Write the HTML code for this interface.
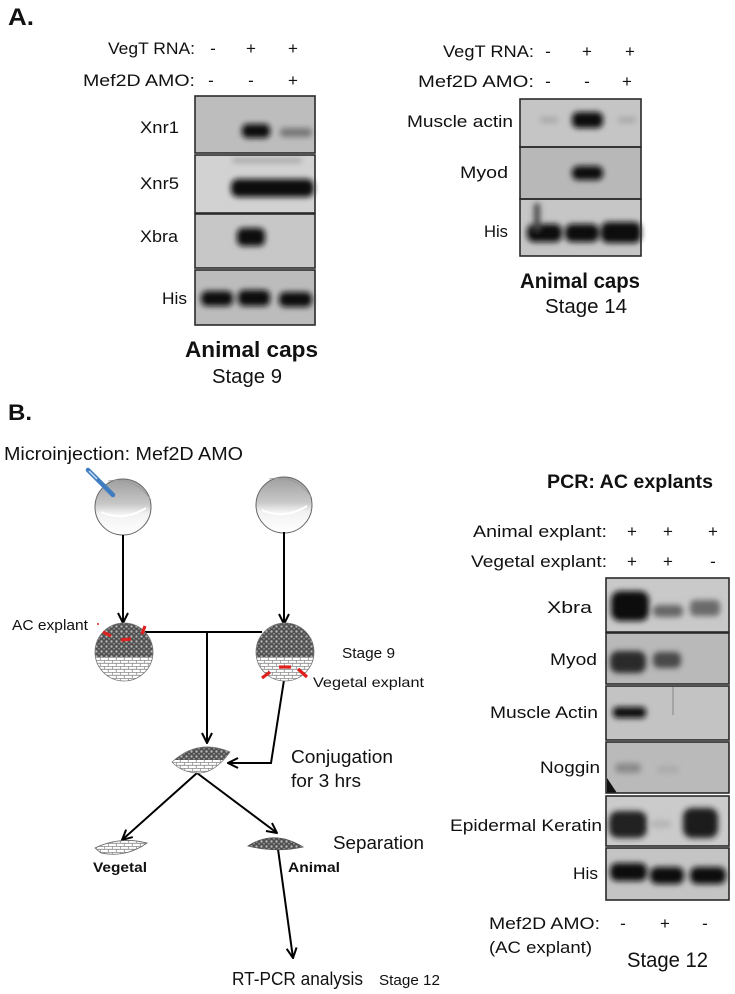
<!DOCTYPE html>
<html><head><meta charset="utf-8"><style>
html,body{margin:0;padding:0;background:#fff;}
svg{display:block;}
text{font-family:"Liberation Sans",Arial,sans-serif;fill:#111;}
.b{font-weight:bold;}
</style></head><body>
<svg width="735" height="994" viewBox="0 0 735 994" xmlns="http://www.w3.org/2000/svg">
<defs>
<filter id="bl" x="-50%" y="-100%" width="200%" height="300%"><feGaussianBlur stdDeviation="2.8"/></filter>
<marker id="ah" viewBox="0 0 12 12" refX="11" refY="6" markerWidth="12" markerHeight="12" orient="auto" markerUnits="userSpaceOnUse">
<path d="M1,1 L11,6 L1,11" fill="none" stroke="#000" stroke-width="2"/></marker>
<pattern id="dk" width="5" height="5" patternUnits="userSpaceOnUse"><rect width="5" height="5" fill="#505050"/><circle cx="1.5" cy="1.5" r="1.2" fill="#b4b4b4"/><circle cx="4" cy="3.8" r="0.9" fill="#9a9a9a"/></pattern>
<pattern id="lt" width="8" height="6" patternUnits="userSpaceOnUse"><rect width="8" height="6" fill="#fff"/><path d="M0,0.3H8M0,3.3H8M0.3,0V3.3M4.3,3.3V6" stroke="#8a8a8a" stroke-width="0.8" fill="none"/></pattern>
<linearGradient id="egg" x1="0" y1="0" x2="0" y2="1">
<stop offset="0" stop-color="#9e9e9e"/><stop offset="0.45" stop-color="#c8c8c8"/><stop offset="0.62" stop-color="#f2f2f2"/><stop offset="1" stop-color="#fff"/></linearGradient>
<clipPath id="cL"><circle cx="124" cy="652" r="29"/></clipPath>
<clipPath id="cR"><circle cx="285" cy="652" r="29"/></clipPath>
<clipPath id="cC"><path d="M172,762 Q198,738 230,752 Q214,774 197,773 Q181,772 172,762Z"/></clipPath>
</defs>

<!-- ===== Panel A ===== -->
<text x="8" y="25" font-size="24" class="b" textLength="26" lengthAdjust="spacingAndGlyphs">A.</text>

<text x="108" y="54" font-size="17" textLength="87" lengthAdjust="spacingAndGlyphs">VegT RNA:</text>
<text x="213" y="54" font-size="17" text-anchor="middle">-</text>
<text x="251" y="54" font-size="17" text-anchor="middle">+</text>
<text x="293" y="54" font-size="17" text-anchor="middle">+</text>
<text x="83" y="86" font-size="17" textLength="112" lengthAdjust="spacingAndGlyphs">Mef2D AMO:</text>
<text x="211" y="86" font-size="17" text-anchor="middle">-</text>
<text x="251" y="86" font-size="17" text-anchor="middle">-</text>
<text x="293" y="86" font-size="17" text-anchor="middle">+</text>

<rect x="195" y="96" width="120" height="57" fill="#bdbdbd"/>
<rect x="195" y="155" width="120" height="58" fill="#d2d2d2"/>
<rect x="195" y="214" width="120" height="54" fill="#c7c7c7"/>
<rect x="195" y="270" width="120" height="55" fill="#bcbcbc"/>
<g filter="url(#bl)" fill="#111">
<rect x="242" y="124" width="28" height="14" rx="5"/>
<rect x="280" y="128" width="32" height="9" rx="4" fill="#777"/>
<rect x="231" y="179" width="83" height="18" rx="7"/>
<rect x="232" y="158" width="70" height="5" rx="2" fill="#a8a8a8"/>
<rect x="237" y="228" width="28" height="18" rx="6"/>
<rect x="201" y="291" width="32" height="15" rx="6"/>
<rect x="238" y="290" width="32" height="16" rx="6"/>
<rect x="279" y="292" width="33" height="15" rx="6"/>
</g>
<g fill="none" stroke="#2a2a2a" stroke-width="1.6">
<rect x="195" y="96" width="120" height="57"/>
<rect x="195" y="155" width="120" height="58"/>
<rect x="195" y="214" width="120" height="54"/>
<rect x="195" y="270" width="120" height="55"/>
</g>
<text x="140" y="133" font-size="17" textLength="39" lengthAdjust="spacingAndGlyphs">Xnr1</text>
<text x="140" y="189" font-size="17" textLength="39" lengthAdjust="spacingAndGlyphs">Xnr5</text>
<text x="140" y="242" font-size="17" textLength="38" lengthAdjust="spacingAndGlyphs">Xbra</text>
<text x="162" y="304" font-size="17" textLength="25" lengthAdjust="spacingAndGlyphs">His</text>
<text x="185" y="357" font-size="22" class="b" textLength="133" lengthAdjust="spacingAndGlyphs">Animal caps</text>
<text x="212" y="383" font-size="20" textLength="70" lengthAdjust="spacingAndGlyphs">Stage 9</text>

<text x="443" y="57" font-size="17" textLength="91" lengthAdjust="spacingAndGlyphs">VegT RNA:</text>
<text x="548" y="57" font-size="17" text-anchor="middle">-</text>
<text x="587" y="57" font-size="17" text-anchor="middle">+</text>
<text x="630" y="57" font-size="17" text-anchor="middle">+</text>
<text x="418" y="87" font-size="17" textLength="116" lengthAdjust="spacingAndGlyphs">Mef2D AMO:</text>
<text x="548" y="87" font-size="17" text-anchor="middle">-</text>
<text x="587" y="87" font-size="17" text-anchor="middle">-</text>
<text x="627" y="87" font-size="17" text-anchor="middle">+</text>

<rect x="520" y="99" width="121" height="48" fill="#c5c5c5"/>
<rect x="520" y="147" width="121" height="52" fill="#b8b8b8"/>
<rect x="520" y="199" width="121" height="57" fill="#c6c6c6"/>
<g filter="url(#bl)" fill="#111">
<rect x="572" y="112" width="31" height="16" rx="6"/>
<rect x="540" y="117" width="18" height="6" rx="3" fill="#a8a8a8"/>
<rect x="618" y="117" width="18" height="6" rx="3" fill="#a8a8a8"/>
<rect x="572" y="166" width="31" height="14" rx="6"/>
<rect x="527" y="224" width="35" height="18" rx="7"/>
<rect x="565" y="224" width="34" height="18" rx="7"/>
<rect x="601" y="222" width="40" height="21" rx="7"/>
<rect x="534" y="203" width="6" height="28" rx="3" fill="#444"/>
</g>
<g fill="none" stroke="#2a2a2a" stroke-width="1.6">
<rect x="520" y="99" width="121" height="48"/>
<rect x="520" y="147" width="121" height="52"/>
<rect x="520" y="199" width="121" height="57"/>
</g>
<text x="407" y="127" font-size="17" textLength="106" lengthAdjust="spacingAndGlyphs">Muscle actin</text>
<text x="460" y="178" font-size="17" textLength="48" lengthAdjust="spacingAndGlyphs">Myod</text>
<text x="484" y="237" font-size="17" textLength="24" lengthAdjust="spacingAndGlyphs">His</text>
<text x="520" y="288" font-size="21" class="b" textLength="120" lengthAdjust="spacingAndGlyphs">Animal caps</text>
<text x="545" y="313" font-size="20" textLength="82" lengthAdjust="spacingAndGlyphs">Stage 14</text>

<!-- ===== Panel B ===== -->
<text x="8" y="420" font-size="22" class="b" textLength="24" lengthAdjust="spacingAndGlyphs">B.</text>
<text x="4" y="460" font-size="18" textLength="239" lengthAdjust="spacingAndGlyphs">Microinjection: Mef2D AMO</text>

<circle cx="123" cy="507" r="28" fill="url(#egg)" stroke="#666" stroke-width="1"/>
<path d="M101,512 Q123,522 146,508" fill="none" stroke="#fff" stroke-width="2"/>
<path d="M108,481 Q135,476 151,500" fill="none" stroke="#999" stroke-width="0.8"/>
<circle cx="284" cy="505" r="28" fill="url(#egg)" stroke="#666" stroke-width="1"/>
<path d="M262,510 Q284,520 307,506" fill="none" stroke="#fff" stroke-width="2"/>
<path d="M269,479 Q296,474 312,498" fill="none" stroke="#999" stroke-width="0.8"/>
<line x1="88" y1="470" x2="113" y2="495" stroke="#3f7cc0" stroke-width="4.5" stroke-linecap="round"/>
<line x1="89" y1="471" x2="97" y2="479" stroke="#cfe0f2" stroke-width="1.4"/>

<g stroke="#000" stroke-width="2" fill="none">
<line x1="123" y1="535" x2="123" y2="623" marker-end="url(#ah)"/>
<line x1="284" y1="532" x2="284" y2="624" marker-end="url(#ah)"/>
<line x1="145" y1="632" x2="262" y2="632"/>
<line x1="207" y1="632" x2="207" y2="743" marker-end="url(#ah)"/>
<polyline points="284,680 271,763 228,763" marker-end="url(#ah)"/>
<line x1="197" y1="773" x2="122" y2="840" marker-end="url(#ah)"/>
<line x1="197" y1="773" x2="277" y2="833" marker-end="url(#ah)"/>
<line x1="278" y1="849" x2="293" y2="958" marker-end="url(#ah)"/>
</g>

<g clip-path="url(#cL)">
<rect x="90" y="620" width="70" height="37" fill="url(#dk)"/>
<rect x="90" y="657" width="70" height="30" fill="url(#lt)"/>
</g>
<circle cx="124" cy="652" r="29" fill="none" stroke="#777" stroke-width="0.8"/>
<g clip-path="url(#cR)">
<rect x="250" y="620" width="70" height="37" fill="url(#dk)"/>
<rect x="250" y="657" width="70" height="30" fill="url(#lt)"/>
</g>
<circle cx="285" cy="652" r="29" fill="none" stroke="#777" stroke-width="0.8"/>

<g stroke="#e0201c" stroke-width="3.2" fill="none">
<line x1="103" y1="632" x2="111" y2="636"/>
<line x1="121" y1="640" x2="131" y2="639"/>
<line x1="145" y1="626" x2="142" y2="634"/>
<line x1="97" y1="624" x2="99" y2="624" stroke-width="1.5"/>
<line x1="262" y1="678" x2="270" y2="672"/>
<line x1="279" y1="667" x2="291" y2="667"/>
<line x1="298" y1="669" x2="307" y2="677"/>
</g>

<g clip-path="url(#cC)">
<rect x="170" y="738" width="62" height="22" fill="url(#dk)"/>
<rect x="170" y="760" width="62" height="16" fill="url(#lt)"/>
</g>
<path d="M172,762 Q198,738 230,752 Q214,774 197,773 Q181,772 172,762Z" fill="none" stroke="#777" stroke-width="0.7"/>

<path d="M95,848 Q120,836 147,843 Q126,858 101,853Z" fill="url(#lt)" stroke="#666" stroke-width="0.8"/>
<path d="M248,846 Q274,829 303,847 Q276,853 248,846Z" fill="url(#dk)" stroke="#555" stroke-width="0.8"/>

<text x="12" y="630" font-size="15" textLength="76" lengthAdjust="spacingAndGlyphs">AC explant</text>
<text x="342" y="658" font-size="15" textLength="53" lengthAdjust="spacingAndGlyphs">Stage 9</text>
<text x="313" y="687" font-size="14" textLength="111" lengthAdjust="spacingAndGlyphs">Vegetal explant</text>
<text x="291" y="763" font-size="18" textLength="102" lengthAdjust="spacingAndGlyphs">Conjugation</text>
<text x="291" y="787" font-size="18" textLength="70" lengthAdjust="spacingAndGlyphs">for 3 hrs</text>
<text x="333" y="849" font-size="18" textLength="91" lengthAdjust="spacingAndGlyphs">Separation</text>
<text x="93" y="872" font-size="14" class="b" textLength="54" lengthAdjust="spacingAndGlyphs">Vegetal</text>
<text x="288" y="872" font-size="14" class="b" textLength="52" lengthAdjust="spacingAndGlyphs">Animal</text>
<text x="232" y="985" font-size="18" textLength="131" lengthAdjust="spacingAndGlyphs">RT-PCR analysis</text>
<text x="379" y="985" font-size="15" textLength="61" lengthAdjust="spacingAndGlyphs">Stage 12</text>

<text x="547" y="488" font-size="19" class="b" textLength="166" lengthAdjust="spacingAndGlyphs">PCR: AC explants</text>
<text x="473" y="537" font-size="17" textLength="134" lengthAdjust="spacingAndGlyphs">Animal explant:</text>
<text x="632" y="537" font-size="17" text-anchor="middle">+</text>
<text x="668" y="537" font-size="17" text-anchor="middle">+</text>
<text x="713" y="537" font-size="17" text-anchor="middle">+</text>
<text x="471" y="567" font-size="17" textLength="136" lengthAdjust="spacingAndGlyphs">Vegetal explant:</text>
<text x="632" y="567" font-size="17" text-anchor="middle">+</text>
<text x="668" y="567" font-size="17" text-anchor="middle">+</text>
<text x="713" y="567" font-size="17" text-anchor="middle">-</text>

<rect x="606" y="578" width="123" height="54" fill="#c9c9c9"/>
<rect x="606" y="633" width="123" height="51" fill="#b9b9b9"/>
<rect x="606" y="686" width="123" height="54" fill="#c3c3c3"/>
<rect x="606" y="742" width="123" height="51" fill="#bababa"/>
<rect x="606" y="796" width="123" height="50" fill="#cbcbcb"/>
<rect x="606" y="848" width="123" height="52" fill="#c4c4c4"/>
<g filter="url(#bl)" fill="#111">
<rect x="611" y="591" width="38" height="30" rx="9"/>
<rect x="653" y="605" width="30" height="12" rx="5" fill="#666"/>
<rect x="690" y="600" width="30" height="16" rx="5" fill="#6a6a6a"/>
<rect x="610" y="651" width="36" height="22" rx="8" fill="#2a2a2a"/>
<rect x="653" y="652" width="28" height="16" rx="6" fill="#4a4a4a"/>
<rect x="613" y="707" width="33" height="11" rx="4"/>
<rect x="615" y="763" width="26" height="10" rx="4" fill="#8a8a8a"/>
<rect x="657" y="766" width="22" height="7" rx="3" fill="#aaa"/>
<rect x="609" y="811" width="38" height="27" rx="9" fill="#222"/>
<rect x="683" y="808" width="35" height="30" rx="9" fill="#1a1a1a"/>
<rect x="651" y="820" width="20" height="8" rx="3" fill="#b5b5b5"/>
<rect x="610" y="863" width="37" height="18" rx="7"/>
<rect x="650" y="867" width="34" height="17" rx="7"/>
<rect x="690" y="867" width="36" height="17" rx="7"/>
</g>
<path d="M607,778 L607,793 L617,793 Z" fill="#111"/>
<line x1="673" y1="687" x2="673" y2="715" stroke="#777" stroke-width="0.8"/>
<g fill="none" stroke="#2a2a2a" stroke-width="1.6">
<rect x="606" y="578" width="123" height="54"/>
<rect x="606" y="633" width="123" height="51"/>
<rect x="606" y="686" width="123" height="54"/>
<rect x="606" y="742" width="123" height="51"/>
<rect x="606" y="796" width="123" height="50"/>
<rect x="606" y="848" width="123" height="52"/>
</g>
<text x="547" y="613" font-size="17" textLength="45" lengthAdjust="spacingAndGlyphs">Xbra</text>
<text x="550" y="665" font-size="17" textLength="47" lengthAdjust="spacingAndGlyphs">Myod</text>
<text x="490" y="718" font-size="17" textLength="108" lengthAdjust="spacingAndGlyphs">Muscle Actin</text>
<text x="540" y="773" font-size="17" textLength="60" lengthAdjust="spacingAndGlyphs">Noggin</text>
<text x="450" y="831" font-size="17" textLength="152" lengthAdjust="spacingAndGlyphs">Epidermal Keratin</text>
<text x="573" y="879" font-size="17" textLength="25" lengthAdjust="spacingAndGlyphs">His</text>
<text x="489" y="929" font-size="17" textLength="111" lengthAdjust="spacingAndGlyphs">Mef2D AMO:</text>
<text x="623" y="929" font-size="17" text-anchor="middle">-</text>
<text x="665" y="929" font-size="17" text-anchor="middle">+</text>
<text x="705" y="929" font-size="17" text-anchor="middle">-</text>
<text x="489" y="953" font-size="17" textLength="103" lengthAdjust="spacingAndGlyphs">(AC explant)</text>
<text x="627" y="967" font-size="21" textLength="81" lengthAdjust="spacingAndGlyphs">Stage 12</text>
</svg>
</body></html>
